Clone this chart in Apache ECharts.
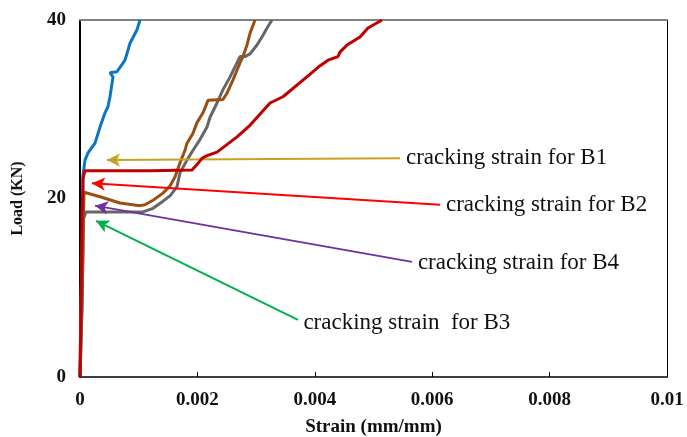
<!DOCTYPE html>
<html>
<head>
<meta charset="utf-8">
<script src="https://cdn.jsdelivr.net/npm/echarts@6/dist/echarts.min.js"></script>
<style>
html,body{margin:0;padding:0;background:#fff;}
#chart{width:687px;height:437px;}
</style>
</head>
<body>
<div id="chart"></div>
<script>
// Axis ticks
const xTicks = [0, 0.002, 0.004, 0.006, 0.008, 0.01];
const yTicks = [0, 20, 40];

// Blue curve
const blueStrain = [0, 0.000034, 0.000051, 0.000051, 0.000051, 0.000085, 0.000136, 0.000256, 0.000341, 0.000426, 0.000477, 0.000511, 0.000562, 0.000511, 0.00063, 0.000767, 0.000852, 0.000971, 0.001022];
const blueLoad   = [0, 7.5, 14.2, 19.8, 22.6, 24.3, 25.1, 26.2, 28.0, 29.6, 30.3, 31.4, 33.6, 34.1, 34.2, 35.5, 37.4, 38.9, 40.0];

// Dark red curve
const redStrain = [0, 0.000017, 0.000034, 0.000051, 0.000085, 0.001193, 0.001908, 0.001993, 0.002078, 0.002164, 0.002334, 0.002675, 0.002896, 0.003237, 0.003458, 0.003952, 0.004055, 0.004225, 0.004395, 0.004429, 0.004549, 0.00477, 0.004906, 0.005145];
const redLoad   = [0, 8.6, 17.6, 22.3, 23.1, 23.1, 23.2, 23.8, 24.5, 24.8, 25.2, 26.9, 28.2, 30.7, 31.4, 34.1, 34.7, 35.5, 35.9, 36.4, 37.2, 38.1, 39.1, 40.0];

// Brown curve
const brownStrain = [0, 0.000034, 0.000068, 0.000341, 0.000681, 0.001022, 0.001107, 0.001244, 0.001414, 0.001533, 0.001618, 0.001704, 0.001789, 0.001823, 0.001925, 0.001993, 0.002095, 0.002181, 0.002436, 0.002504, 0.002607, 0.002726, 0.002777, 0.002845, 0.002896, 0.002981];
const brownLoad   = [0, 8.6, 20.7, 20.2, 19.5, 19.2, 19.3, 19.8, 20.6, 21.4, 22.4, 24.0, 25.4, 26.2, 27.3, 28.5, 29.6, 31.0, 31.1, 31.8, 33.3, 35.2, 35.9, 37.2, 38.5, 40.0];

// Gray curve
const grayStrain = [0, 0.000017, 0.000051, 0.000102, 0.001073, 0.001244, 0.001414, 0.001533, 0.001652, 0.001704, 0.001823, 0.001925, 0.002044, 0.002164, 0.002215, 0.002334, 0.002436, 0.002555, 0.002726, 0.002811, 0.002896, 0.003015, 0.003118, 0.003186, 0.003271];
const grayLoad   = [0, 8.6, 17.6, 18.5, 18.5, 18.9, 19.7, 20.3, 21.3, 22.9, 24.3, 25.4, 26.6, 28.0, 29.1, 30.7, 32.2, 33.6, 35.9, 35.9, 36.2, 37.2, 38.3, 39.1, 40.0];

// Annotations: arrow tip (strain, load) and tail (strain, load)
const noteTexts  = ['cracking strain for B1', 'cracking strain for B2', 'cracking strain for B4', 'cracking strain  for B3'];
const noteTipX   = [0.00046, 0.000204, 0.000256, 0.000273];
const noteTipY   = [24.3, 21.7, 19.2, 17.5];
const noteTailX  = [0.005451, 0.006133, 0.005656, 0.003714];
const noteTailY  = [24.5, 19.3, 12.9, 6.4];
const noteColors = ['#C9A020', '#FF0000', '#7030A0', '#00B050'];

function zip(xs, ys){ return xs.map((x,i)=>[x, ys[i]]); }

const serif = '"Liberation Serif", "Times New Roman", serif';

function curve(name, xs, ys, color, z){
  return {
    name: name, type: 'line', data: zip(xs, ys), symbol: 'none',
    lineStyle: {color: color, width: 3}, z: z, animation: false
  };
}

const notes = {
  type: 'line', data: [], symbol: 'none', z: 10, animation: false,
  markLine: {
    silent: true, animation: false,
    symbol: ['arrow', 'none'], symbolSize: [10, 13],
    data: noteTexts.map((t, i) => [
      {coord: [noteTipX[i], noteTipY[i]],
       lineStyle: {color: noteColors[i], width: 2, type: 'solid'},
       label: {show: true, position: 'end', formatter: t, distance: 6,
               color: '#111', fontFamily: serif, fontSize: 23}},
      {coord: [noteTailX[i], noteTailY[i]]}
    ])
  }
};

const chart = echarts.init(document.getElementById('chart'), null, {renderer: 'canvas'});
chart.setOption({
  backgroundColor: '#fff',
  animation: false,
  grid: {left: 80, right: 20, top: 20, bottom: 60, containLabel: false, outerBoundsMode: 'none'},
  xAxis: [{
    type: 'value', min: xTicks[0], max: xTicks[xTicks.length-1], interval: 0.002,
    axisLine: {show: true, onZero: false, lineStyle: {color: '#000', width: 1.5}},
    axisTick: {show: true, inside: true, length: 5, lineStyle: {color: '#000'}},
    splitLine: {show: false},
    axisLabel: {margin: 14, color: '#111', fontFamily: serif, fontWeight: 'bold', fontSize: 19,
      formatter: v => String(v)},
    name: 'Strain (mm/mm)', nameLocation: 'middle', nameGap: 41,
    nameTextStyle: {color: '#111', fontFamily: serif, fontWeight: 'bold', fontSize: 19}
  }, {
    type: 'value', position: 'top', min: 0, max: 0.01,
    axisLine: {show: true, onZero: false, lineStyle: {color: '#808080', width: 2}},
    axisTick: {show: false}, axisLabel: {show: false}, splitLine: {show: false}
  }],
  yAxis: [{
    type: 'value', min: yTicks[0], max: yTicks[yTicks.length-1], interval: 20,
    axisLine: {show: true, onZero: false, lineStyle: {color: '#000', width: 2}},
    axisTick: {show: false},
    splitLine: {show: false},
    axisLabel: {margin: 14, color: '#111', fontFamily: serif, fontWeight: 'bold', fontSize: 19},
    name: 'Load (KN)', nameLocation: 'middle', nameGap: 54, nameRotate: 90,
    nameTextStyle: {color: '#111', fontFamily: serif, fontWeight: 'bold', fontSize: 16}
  }, {
    type: 'value', position: 'right', min: 0, max: 40,
    axisLine: {show: true, onZero: false, lineStyle: {color: '#000', width: 1}},
    axisTick: {show: false}, axisLabel: {show: false}, splitLine: {show: false}
  }],
  series: [
    curve('Blue', blueStrain, blueLoad, '#0B74C4', 2),
    curve('Gray', grayStrain, grayLoad, '#666666', 3),
    curve('Brown', brownStrain, brownLoad, '#9A4E12', 4),
    curve('Red', redStrain, redLoad, '#C00000', 5),
    notes
  ]
});
</script>
</body>
</html>
